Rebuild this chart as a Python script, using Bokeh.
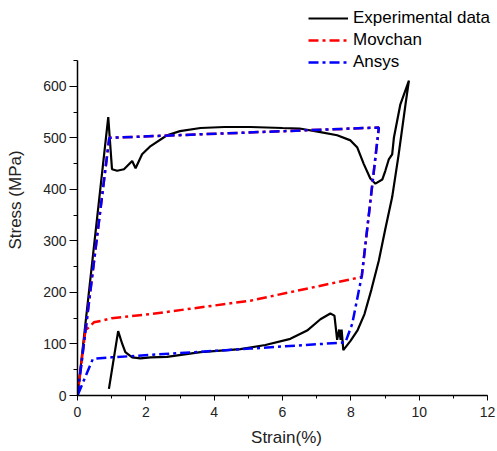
from bokeh.plotting import figure
from bokeh.models import Legend, LegendItem, Range1d, FixedTicker
from bokeh.embed import file_html
from bokeh.resources import INLINE

# Experimental data (strain %, stress MPa)
exp_strain = [0.0, 0.90, 1.01, 1.16, 1.36, 1.60, 1.70, 1.89, 2.14, 2.62, 3.0, 3.6, 4.3, 5.06, 6.0, 6.5,
              7.11, 7.6, 7.99, 8.19, 8.38, 8.57, 8.72, 8.92, 9.01, 9.11, 9.21, 9.26, 9.45, 9.70,
              9.60, 9.40, 9.21, 9.0, 8.82, 8.6, 8.4, 8.2, 7.99, 7.78, 7.73, 7.70, 7.66, 7.60, 7.52,
              7.40, 7.11, 6.72, 6.23, 5.5, 4.77, 3.6, 2.62, 2.14, 1.84, 1.60, 1.40, 1.31, 1.19, 0.92]
exp_stress = [0, 540, 439, 436, 439, 455, 441, 468, 484, 505, 513, 519, 521, 521, 519, 518,
              511, 505, 495, 481, 449, 421, 411, 419, 436, 458, 468, 500, 565, 611,
              565, 468, 385, 320, 262, 205, 158, 127, 106, 88, 128, 108, 128, 108, 155,
              159, 148, 126, 110, 98, 90, 84, 75, 74, 72, 74, 84, 100, 125, 13]

# Movchan model
mov_strain = [0.0, 0.93, 8.82, 8.32, 5.06, 2.14, 1.0, 0.77, 0.48, 0.23, 0.0]
mov_stress = [0, 500, 520, 230, 184, 158, 150, 146, 142, 126, 0]

# Ansys model
ans_strain = [0.0, 0.93, 8.82, 8.32, 8.04, 7.84, 5.06, 1.0, 0.45, 0.0]
ans_stress = [0, 500, 520, 232, 139, 103, 91, 74, 71, 0]

x_ticks = [0, 2, 4, 6, 8, 10, 12]
y_ticks = [0, 100, 200, 300, 400, 500, 600]
x_axis_max = 12
y_axis_max = 650

FONT = "Liberation Sans"

# frame: left 77, right 495, top 4, bottom 395 (px); axes drawn only over 0..12 and 0..650
W, H = 497, 451
left, right, top, bottom = 77, 495, 4, 395
x_end = x_axis_max * (right - left) / 410.0
y_end = y_axis_max * (bottom - top) / 335.0

p = figure(width=W, height=H, output_backend="svg", toolbar_location=None,
           x_range=Range1d(0, x_end), y_range=Range1d(0, y_end),
           min_border_left=left, min_border_right=W - right,
           min_border_top=top, min_border_bottom=H - bottom)
p.outline_line_color = None
p.grid.visible = False
p.background_fill_color = "white"

r_exp = p.line(exp_strain, exp_stress, line_color="black", line_width=2.2)
r_mov = p.line(mov_strain, mov_stress, line_color="#ff0000", line_width=2.5, line_dash="10 4 3 4")
r_ans = p.line(ans_strain, ans_stress, line_color="#0000ff", line_width=2.5, line_dash="10 4 3 4")

for ax in (p.xaxis[0], p.yaxis[0]):
    ax.axis_line_color = "black"
    ax.axis_line_width = 1.5
    ax.major_tick_line_color = "black"
    ax.minor_tick_line_color = "black"
    ax.major_tick_in = 0
    ax.minor_tick_in = 0
    ax.major_label_text_font = FONT
    ax.major_label_text_font_size = "14px"
    ax.major_label_text_color = "#222222"
    ax.axis_label_text_font = FONT
    ax.axis_label_text_font_size = "17px"
    ax.axis_label_text_font_style = "normal"
    ax.axis_label_text_color = "#222222"

p.xaxis[0].bounds = (0, x_axis_max)
p.yaxis[0].bounds = (0, y_axis_max)
p.xaxis[0].ticker = FixedTicker(ticks=x_ticks, minor_ticks=list(range(0, 13)))
p.yaxis[0].ticker = FixedTicker(ticks=y_ticks, minor_ticks=list(range(0, 651, 50)))
p.xaxis[0].major_tick_out = 5
p.xaxis[0].minor_tick_out = 3
p.yaxis[0].major_tick_out = 8
p.yaxis[0].minor_tick_out = 4
p.xaxis[0].axis_label = "Strain(%)"
p.yaxis[0].axis_label = "Stress (MPa)"
p.xaxis[0].major_label_standoff = 6
p.xaxis[0].axis_label_standoff = 8
p.yaxis[0].major_label_standoff = 3
p.yaxis[0].axis_label_standoff = 15

legend = Legend(items=[LegendItem(label="Experimental data", renderers=[r_exp]),
                       LegendItem(label="Movchan", renderers=[r_mov]),
                       LegendItem(label="Ansys", renderers=[r_ans])],
                location=(308 - left, bottom - 73))
legend.border_line_color = None
legend.background_fill_alpha = 0
legend.padding = 0
legend.margin = 0
legend.spacing = 0
legend.glyph_width = 40
legend.glyph_height = 22
legend.label_height = 22
legend.label_standoff = 5
legend.label_text_font = FONT
legend.label_text_font_size = "17px"
legend.label_text_color = "black"
p.add_layout(legend, "center")

open("out.html", "w").write(file_html(p, INLINE))
